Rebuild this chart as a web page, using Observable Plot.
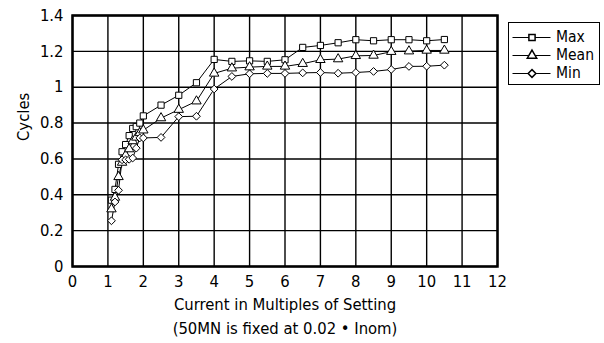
<!DOCTYPE html>
<html>
<head>
<meta charset="utf-8">
<script src="https://cdn.jsdelivr.net/npm/d3@7"></script>
<script src="https://cdn.jsdelivr.net/npm/@observablehq/plot@0.6"></script>
<style>
  html, body { margin: 0; padding: 0; background: #fff; }
  #wrap { position: relative; width: 604px; height: 343px; overflow: hidden; }
  #legend { position: absolute; left: 508px; top: 22px; border: 1.5px solid #000; background: #fff; line-height: 0; }
  svg { display: block; }
</style>
</head>
<body>
<div id="wrap"><div id="chart"></div><div id="legend"></div></div>
<script>
const FONT = "'DejaVu Sans Condensed', 'Liberation Sans Narrow', sans-serif";

// categories
const series = ["Max", "Mean", "Min"];
const xValues = [1.1, 1.2, 1.3, 1.4, 1.5, 1.6, 1.7, 1.8, 1.9, 2.0, 2.5, 3.0, 3.5, 4.0, 4.5, 5.0, 5.5, 6.0, 6.5, 7.0, 7.5, 8.0, 8.5, 9.0, 9.5, 10.0, 10.5];
// series values (cycles)
const maxValues  = [0.37, 0.43, 0.57, 0.64, 0.68, 0.73, 0.77, 0.78, 0.80, 0.84, 0.90, 0.955, 1.025, 1.155, 1.144, 1.147, 1.144, 1.153, 1.222, 1.233, 1.248, 1.265, 1.259, 1.265, 1.265, 1.259, 1.266];
const meanValues = [0.32, 0.385, 0.50, 0.58, 0.62, 0.655, 0.70, 0.72, 0.745, 0.76, 0.828, 0.875, 0.922, 1.077, 1.106, 1.112, 1.116, 1.116, 1.131, 1.153, 1.157, 1.175, 1.177, 1.198, 1.201, 1.205, 1.205];
const minValues  = [0.255, 0.36, 0.425, 0.595, 0.595, 0.598, 0.605, 0.66, 0.717, 0.717, 0.72, 0.836, 0.838, 0.99, 1.06, 1.075, 1.077, 1.077, 1.08, 1.082, 1.078, 1.082, 1.088, 1.099, 1.116, 1.117, 1.123];
// tick labels
const xTicks = [0, 1, 2, 3, 4, 5, 6, 7, 8, 9, 10, 11, 12];
const yTicks = [0, 0.2, 0.4, 0.6, 0.8, 1.0, 1.2, 1.4];
const symbols = ["square", "triangle", "diamond2"];
const xTitle = "Current in Multiples of Setting\n(50MN is fixed at 0.02 • Inom)";
const yTitle = "Cycles";

const valuesBySeries = {Max: maxValues, Mean: meanValues, Min: minValues};
const rows = series.flatMap(s => xValues.map((x, i) => ({series: s, x, y: valuesBySeries[s][i]})));

const chart = Plot.plot({
  width: 604,
  height: 343,
  marginLeft: 72,
  marginRight: 107,
  marginTop: 15,
  marginBottom: 77,
  style: {fontFamily: FONT, fontSize: "16.5px", color: "#000", background: "#fff"},
  x: {domain: [0, 12], ticks: xTicks, tickSize: 0, tickPadding: 9, label: null},
  y: {domain: [0, 1.4], ticks: yTicks, tickSize: 0, tickPadding: 9,
      tickFormat: d => String(+d.toFixed(1)), label: null},
  symbol: {domain: series, range: symbols},
  marks: [
    Plot.ruleX(xTicks, {stroke: "#000", strokeWidth: 1.4}),
    Plot.ruleY(yTicks, {stroke: "#000", strokeWidth: 1.4}),
    Plot.line(rows, {x: "x", y: "y", z: "series", stroke: "#000", strokeWidth: 1}),
    Plot.dot(rows, {x: "x", y: "y", symbol: "series", fill: "#fff", stroke: "#000", strokeWidth: 1, r: 3.5}),
    Plot.frame({stroke: "#000", strokeWidth: 2.5}),
    Plot.text([xTitle], {text: d => d, frameAnchor: "bottom", lineAnchor: "top", dy: 27, lineHeight: 1.42, fill: "#000"}),
    Plot.text([yTitle], {text: d => d, frameAnchor: "left", rotate: -90, dx: -49, fill: "#000"})
  ]
});
document.getElementById("chart").append(chart);

const legend = Plot.plot({
  width: 90,
  height: 61,
  marginLeft: 3.5,
  marginRight: 48.5,
  marginTop: 14,
  marginBottom: 11,
  style: {fontFamily: FONT, fontSize: "15.5px", color: "#000", background: "#fff"},
  x: {domain: [0, 1], axis: null},
  y: {type: "point", domain: series, padding: 0, axis: null},
  symbol: {domain: series, range: symbols},
  marks: [
    Plot.ruleY(series, {y: d => d, x1: 0, x2: 1, stroke: "#000", strokeWidth: 1}),
    Plot.dot(series, {x: 0.5, y: d => d, symbol: d => d, fill: "#fff", stroke: "#000", r: 3.5}),
    Plot.text(series, {x: 1, y: d => d, text: d => d, textAnchor: "start", dx: 5, fill: "#000"})
  ]
});
document.getElementById("legend").append(legend);
</script>
</body>
</html>
